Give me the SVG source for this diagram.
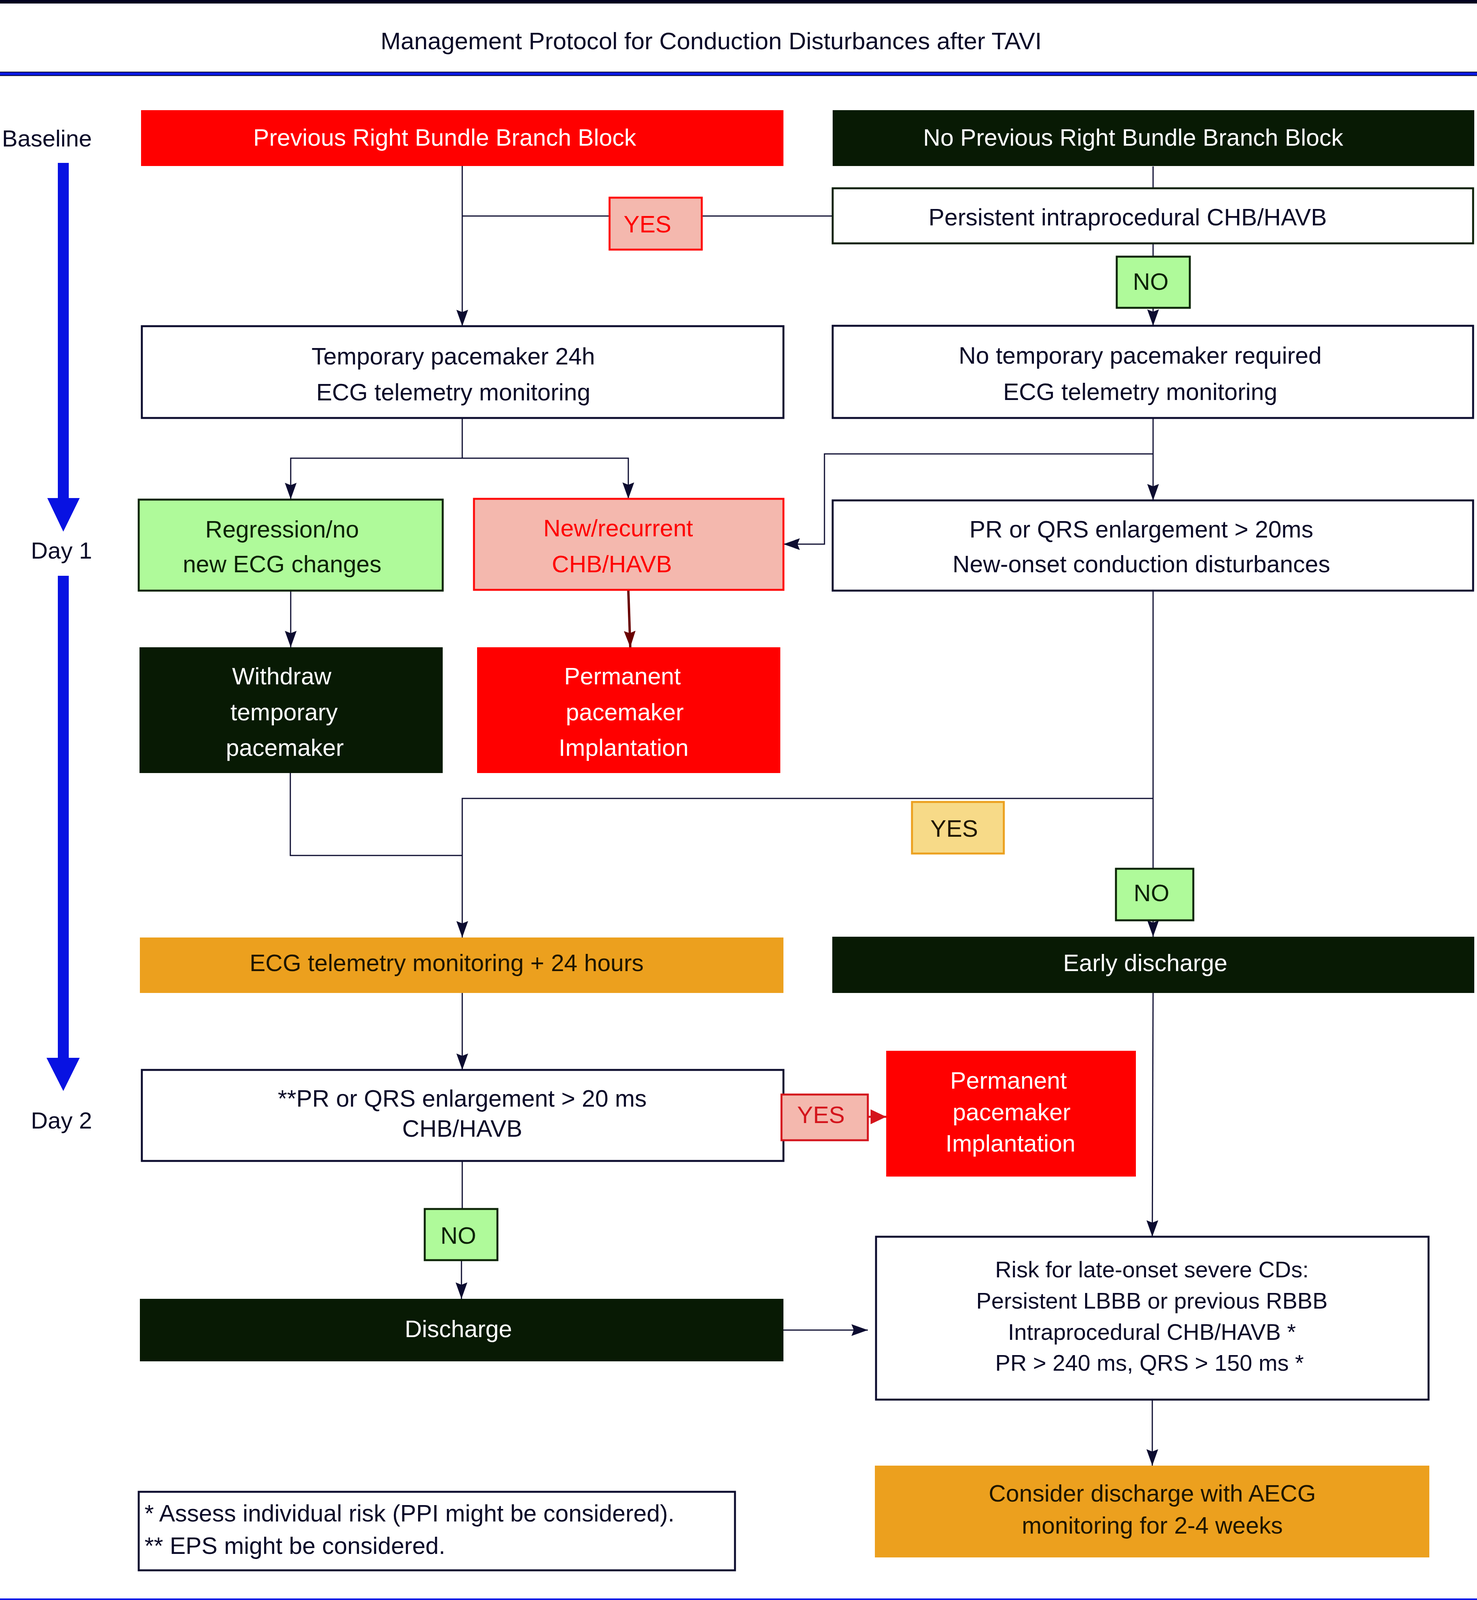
<svg xmlns="http://www.w3.org/2000/svg" width="3780" height="4100" viewBox="0 0 3780 4100">
<defs>
<style>
text{font-family:"Liberation Sans",Arial,sans-serif;font-size:61px;text-anchor:middle;fill:#0a0a28}
.w{fill:#ffffff}
.r{fill:#ff0000}
.r2{fill:#d4141c}
.o{fill:#1f1600}
.g{fill:#0b2205}
.ttl{font-size:62px}
.lbl{font-size:60px;text-anchor:start;fill:#0a0a28}
.fn{text-anchor:start}
.rk{font-size:58px}
.box{fill:#ffffff;stroke:#0c0c2e;stroke-width:5}
.boxg{fill:#ffffff;stroke:#0d2008;stroke-width:5}
.dark{fill:#081a04}
.red{fill:#ff0000}
.orange{fill:#eca01e}
.salmon{fill:#f4b8ae;stroke:#ff0a0a;stroke-width:5}
.salmon2{fill:#f4b8ae;stroke:#d4141c;stroke-width:5}
.green{fill:#affa9a;stroke:#0c2406;stroke-width:5}
.yellow{fill:#f7da88;stroke:#eca01e;stroke-width:5}
.ln{fill:none;stroke:#0c0c30;stroke-width:3}
.arr{fill:none;stroke:#0c0c30;stroke-width:3;marker-end:url(#ah)}
</style>
<marker id="ah" markerUnits="userSpaceOnUse" viewBox="0 0 42 30" markerWidth="42" markerHeight="30" refX="42" refY="15" orient="auto">
<path d="M0,0 L42,15 L0,30 L6,15 z" fill="#0c0c30"/>
</marker>
<marker id="ahdr" markerUnits="userSpaceOnUse" viewBox="0 0 42 30" markerWidth="42" markerHeight="30" refX="42" refY="15" orient="auto">
<path d="M0,0 L42,15 L0,30 L6,15 z" fill="#6a0000"/>
</marker>
<marker id="ahr" markerUnits="userSpaceOnUse" viewBox="0 0 40 38" markerWidth="40" markerHeight="38" refX="40" refY="19" orient="auto">
<path d="M0,0 L40,19 L0,38 z" fill="#d4141c"/>
</marker>
</defs>

<!-- header -->
<rect x="0" y="0" width="3780" height="9" fill="#02021e"/>
<text class="ttl" x="1820" y="126">Management Protocol for Conduction Disturbances after TAVI</text>
<rect x="0" y="184" width="3780" height="10" fill="#0a1ae6"/>
<line x1="0" y1="184.5" x2="3780" y2="184.5" stroke="#02021e" stroke-width="2"/>
<line x1="0" y1="193.5" x2="3780" y2="193.5" stroke="#02021e" stroke-width="2"/>
<rect x="0" y="4092" width="3780" height="8" fill="#0a1ae6"/>

<!-- timeline -->
<g id="timeline">
<text class="lbl" x="5" y="375">Baseline</text>
<rect x="148" y="417" width="28" height="858" fill="#0812e2"/>
<polygon points="121,1275 204,1275 162,1361" fill="#0812e2"/>
<text class="lbl" x="79" y="1430">Day 1</text>
<rect x="148" y="1474" width="28" height="1234" fill="#0812e2"/>
<polygon points="119,2708 204,2708 162,2793" fill="#0812e2"/>
<text class="lbl" x="79" y="2889">Day 2</text>
</g>

<!-- connectors -->
<g id="connectors">
<path class="arr" d="M1183,423 V835"/>
<path class="ln" d="M1183,553 H1560"/>
<path class="ln" d="M1796,553 H2131"/>
<path class="ln" d="M2951,426 V482"/>
<path class="ln" d="M2951,623 V657"/>
<path class="arr" d="M2951,788 V834"/>
<path class="ln" d="M1183,1070 V1173"/>
<path class="arr" d="M1183,1173 H744 V1278"/>
<path class="arr" d="M1183,1173 H1608 V1277"/>
<path class="arr" d="M2951,1070 V1281"/>
<path class="arr" d="M2951,1162 H2110 V1393 H2005"/>
<path class="arr" d="M744,1512 V1657"/>
<path d="M1608,1510 L1613,1657" fill="none" stroke="#6a0000" stroke-width="6" marker-end="url(#ahdr)"/>
<path class="ln" d="M2951,1512 V2224"/>
<path class="arr" d="M2951,2044 H1183 V2400"/>
<path class="ln" d="M743,1979 V2190 H1183"/>
<path class="arr" d="M2951,2356 V2398"/>
<path class="arr" d="M2951,2542 L2949,3166"/>
<path class="arr" d="M1183,2542 V2739"/>
<path class="ln" d="M1183,2972 V3095"/>
<path class="arr" d="M1181,3226 V3325"/>
<path class="arr" d="M2005,3405 H2221"/>
<path class="arr" d="M2949,3583 V3752"/>
<path d="M2221,2859 H2268" fill="none" stroke="#d4141c" stroke-width="5" marker-end="url(#ahr)"/>
</g>

<!-- nodes -->
<g id="n-prev-rbbb">
<rect class="red" x="361" y="282" width="1644" height="143"/>
<text class="w" x="1138" y="373">Previous Right Bundle Branch Block</text>
</g>
<g id="n-no-prev-rbbb">
<rect class="dark" x="2131" y="282" width="1642" height="143"/>
<text class="w" x="2900" y="373">No Previous Right Bundle Branch Block</text>
</g>
<g id="n-persistent">
<rect class="boxg" x="2131" y="482" width="1639" height="141"/>
<text x="2886" y="577">Persistent intraprocedural CHB/HAVB</text>
</g>
<g id="n-yes-top">
<rect class="salmon" x="1560" y="506" width="236" height="133"/>
<text class="r" x="1657" y="595">YES</text>
</g>
<g id="n-no-top">
<rect class="green" x="2858" y="657" width="187" height="131"/>
<text class="g" x="2945" y="742">NO</text>
</g>
<g id="n-temp-pacemaker">
<rect class="box" x="363" y="835" width="1642" height="235"/>
<text x="1160" y="933">Temporary pacemaker 24h</text>
<text x="1160" y="1025">ECG telemetry monitoring</text>
</g>
<g id="n-no-temp">
<rect class="box" x="2131" y="834" width="1639" height="236"/>
<text x="2918" y="931">No temporary pacemaker required</text>
<text x="2918" y="1024">ECG telemetry monitoring</text>
</g>
<g id="n-regression">
<rect class="green" x="355" y="1279" width="778" height="233"/>
<text class="g" x="722" y="1376">Regression/no</text>
<text class="g" x="722" y="1465">new ECG changes</text>
</g>
<g id="n-new-recurrent">
<rect class="salmon" x="1213" y="1277" width="792" height="233"/>
<text class="r" x="1582" y="1373">New/recurrent</text>
<text class="r" x="1566" y="1465">CHB/HAVB</text>
</g>
<g id="n-pr-qrs">
<rect class="box" x="2131" y="1281" width="1639" height="231"/>
<text x="2921" y="1376">PR or QRS enlargement &gt; 20ms</text>
<text x="2921" y="1465">New-onset conduction disturbances</text>
</g>
<g id="n-withdraw">
<rect class="dark" x="357" y="1657" width="776" height="322"/>
<text class="w" x="721" y="1752">Withdraw</text>
<text class="w" x="727" y="1844">temporary</text>
<text class="w" x="729" y="1935">pacemaker</text>
</g>
<g id="n-ppi-1">
<rect class="red" x="1221" y="1657" width="776" height="322"/>
<text class="w" x="1593" y="1752">Permanent</text>
<text class="w" x="1599" y="1844">pacemaker</text>
<text class="w" x="1596" y="1935">Implantation</text>
</g>
<g id="n-yes-mid">
<rect class="yellow" x="2334" y="2053" width="235" height="132"/>
<text class="o" x="2442" y="2142">YES</text>
</g>
<g id="n-no-mid">
<rect class="green" x="2856" y="2224" width="198" height="132"/>
<text class="g" x="2947" y="2307">NO</text>
</g>
<g id="n-ecg-24h">
<rect class="orange" x="358" y="2400" width="1647" height="142"/>
<text class="o" x="1143" y="2486">ECG telemetry monitoring + 24 hours</text>
</g>
<g id="n-early-discharge">
<rect class="dark" x="2130" y="2398" width="1643" height="144"/>
<text class="w" x="2931" y="2486">Early discharge</text>
</g>
<g id="n-pr-qrs-day2">
<rect class="box" x="363" y="2739" width="1642" height="233"/>
<text x="1183" y="2833">**PR or QRS enlargement &gt; 20 ms</text>
<text x="1183" y="2910">CHB/HAVB</text>
</g>
<g id="n-yes-day2">
<rect class="salmon2" x="2000" y="2802" width="221" height="117"/>
<text class="r2" x="2101" y="2875">YES</text>
</g>
<g id="n-ppi-2">
<rect class="red" x="2268" y="2690" width="639" height="322"/>
<text class="w" x="2581" y="2787">Permanent</text>
<text class="w" x="2589" y="2868">pacemaker</text>
<text class="w" x="2586" y="2948">Implantation</text>
</g>
<g id="n-no-day2">
<rect class="green" x="1087" y="3095" width="186" height="131"/>
<text class="g" x="1173" y="3184">NO</text>
</g>
<g id="n-discharge">
<rect class="dark" x="358" y="3325" width="1647" height="160"/>
<text class="w" x="1173" y="3423">Discharge</text>
</g>
<g id="n-risk">
<rect class="box" x="2242" y="3166" width="1414" height="417"/>
<text class="rk" x="2948" y="3270">Risk for late-onset severe CDs:</text>
<text class="rk" x="2948" y="3350">Persistent LBBB or previous RBBB</text>
<text class="rk" x="2948" y="3430">Intraprocedural CHB/HAVB *</text>
<text class="rk" x="2942" y="3509">PR &gt; 240 ms, QRS &gt; 150 ms *</text>
</g>
<g id="n-consider-aecg">
<rect class="orange" x="2239" y="3752" width="1419" height="235"/>
<text class="o" x="2949" y="3844">Consider discharge with AECG</text>
<text class="o" x="2949" y="3926">monitoring for 2-4 weeks</text>
</g>
<g id="n-footnote">
<rect class="box" x="355" y="3819" width="1526" height="201"/>
<text class="fn" x="370" y="3895">* Assess individual risk (PPI might be considered).</text>
<text class="fn" x="370" y="3978">** EPS might be considered.</text>
</g>
</svg>
